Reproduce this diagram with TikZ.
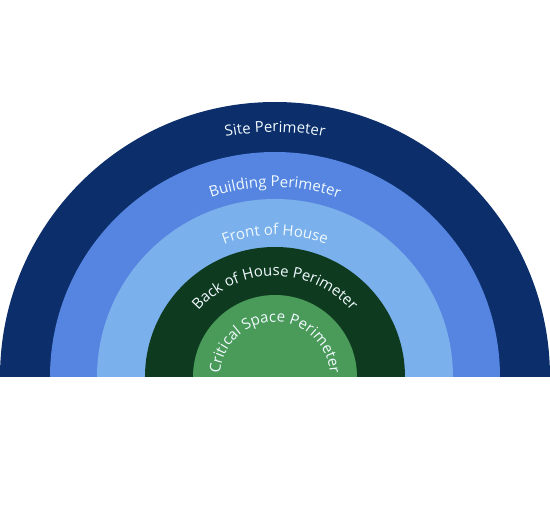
\documentclass[tikz,border=0pt]{standalone}
\usepackage{fontspec}
\setsansfont{Open Sans}
\usepackage{tikz}
\usetikzlibrary{decorations.text}
\definecolor{sitenavy}{RGB}{12,46,107}
\definecolor{buildblue}{RGB}{85,133,224}
\definecolor{fronthouse}{RGB}{122,176,236}
\definecolor{backgreen}{RGB}{14,58,31}
\definecolor{critgreen}{RGB}{74,154,90}

\begin{document}
\begin{tikzpicture}[
  x=1pt, y=1pt,
  arclabel/.style={decorate, decoration={text along path, text align=center,
    text={|\sffamily\fontsize{15}{15}\selectfont\color{white!94!cyan}|#1}}}
]
\useasboundingbox (-275,-148) rectangle (275,377);

% rings, outside in
\fill[sitenavy]   (-275,0) arc[start angle=180, end angle=0, radius=275pt] -- cycle;
\fill[buildblue]  (-225,0) arc[start angle=180, end angle=0, radius=225pt] -- cycle;
\fill[fronthouse] (-178,0) arc[start angle=180, end angle=0, radius=178pt] -- cycle;
\fill[backgreen]  (-130,0) arc[start angle=180, end angle=0, radius=130pt] -- cycle;
\fill[critgreen]  (-82,0)  arc[start angle=180, end angle=0, radius=82pt]  -- cycle;

% curved labels
\path[arclabel={Site Perimeter}]           (-245,0) arc[start angle=180, end angle=0, radius=245pt];
\path[arclabel={Building Perimeter}]       (-190,0) arc[start angle=180, end angle=0, radius=190pt];
\path[arclabel={Front of House}]           (-142,0) arc[start angle=180, end angle=0, radius=142pt];
\path[arclabel={Back of House Perimeter}]  (-101,0) arc[start angle=180, end angle=0, radius=101pt];
\path[arclabel={Critical Space Perimeter}] (-55,0)  arc[start angle=180, end angle=0, radius=55pt];
\end{tikzpicture}
\end{document}
